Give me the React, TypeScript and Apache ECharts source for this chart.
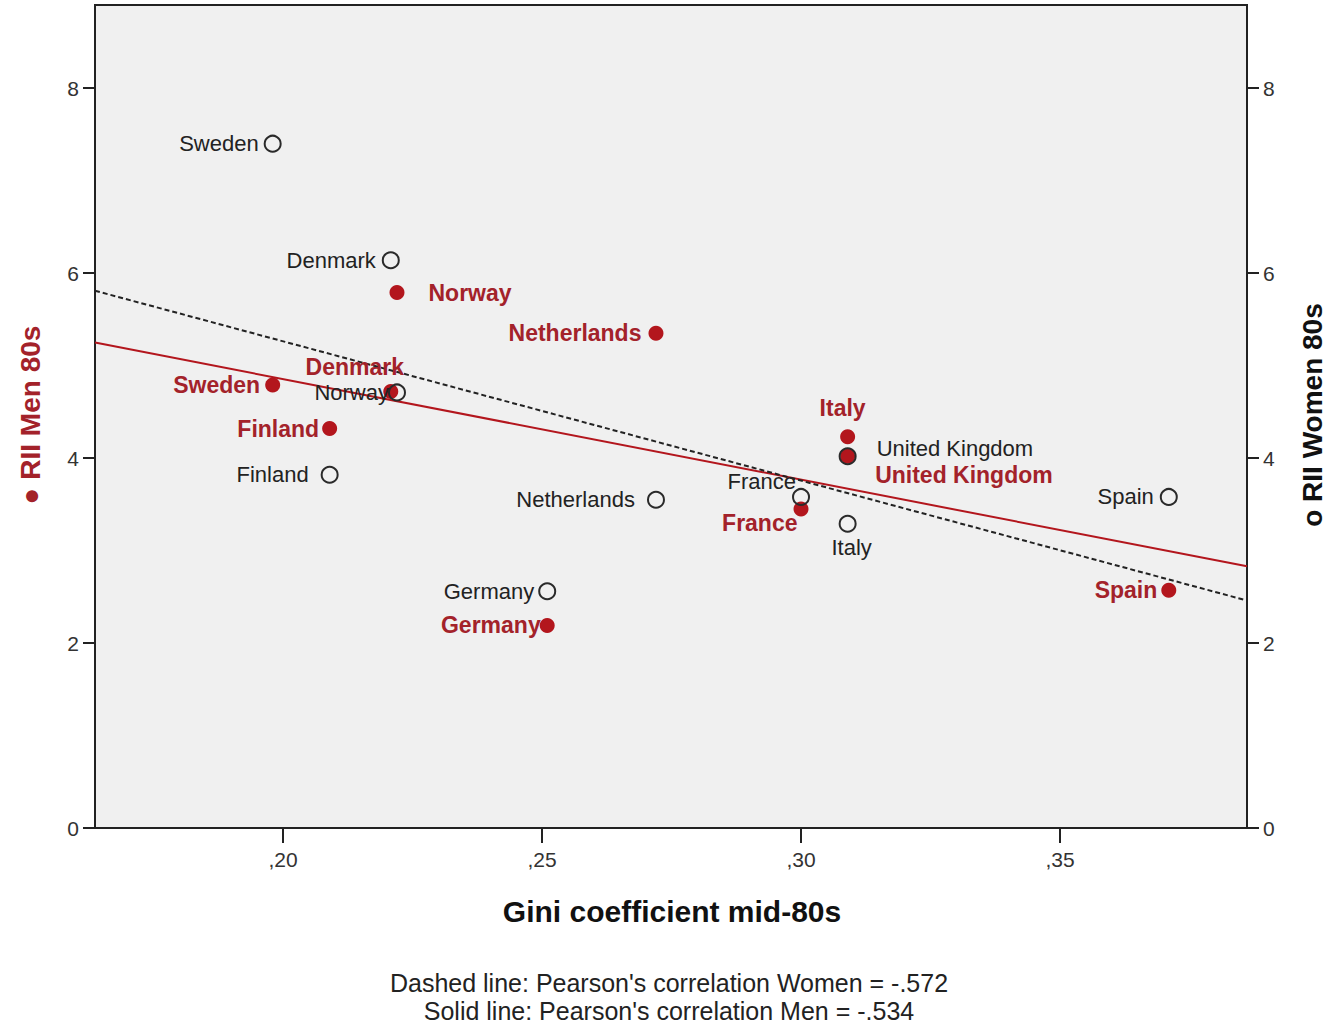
import React, { useEffect, useRef } from 'react';
import * as echarts from 'echarts';

// ---- data ----
const countries = ['Sweden', 'Denmark', 'Norway', 'Finland', 'Netherlands', 'Germany', 'France', 'Italy', 'United Kingdom', 'Spain'];
const gini = [0.198, 0.2208, 0.222, 0.209, 0.272, 0.251, 0.300, 0.309, 0.309, 0.371];
const riiMen = [4.79, 4.72, 5.79, 4.32, 5.35, 2.19, 3.45, 4.23, 4.02, 2.57];
const riiWomen = [7.40, 6.14, 4.71, 3.82, 3.55, 2.56, 3.58, 3.29, 4.02, 3.58];

const xTicks = [0.20, 0.25, 0.30, 0.35];
const yTicks = [0, 2, 4, 6, 8];
const xRange = [0.1637, 0.3861];
const yRange = [0, 8.9];

// fit lines read at the plot edges
const fitMen = [[0.1637, 5.25], [0.3861, 2.83]];
const fitWomen = [[0.1637, 5.81], [0.3861, 2.46]];

const xName = 'Gini coefficient mid-80s';
const yNameLeft = '● RII Men 80s';
const yNameRight = 'o RII Women 80s';
const footer1 = "Dashed line: Pearson's correlation Women = -.572";
const footer2 = "Solid line: Pearson's correlation Men = -.534";

// ---- label placement (layout only) ----
type Place = { position: string; distance: number; offset?: number[] };
const womenPlace: Record<string, Place> = {
  Sweden: { position: 'left', distance: 5 },
  Denmark: { position: 'left', distance: 6 },
  Norway: { position: 'left', distance: -1 },
  Finland: { position: 'left', distance: 12 },
  Netherlands: { position: 'left', distance: 12 },
  Germany: { position: 'left', distance: 4 },
  France: { position: 'left', distance: -4, offset: [0, -15] },
  Italy: { position: 'bottom', distance: 4, offset: [4, 0] },
  'United Kingdom': { position: 'right', distance: 20, offset: [0, -8] },
  Spain: { position: 'left', distance: 6 },
};
const menPlace: Record<string, Place> = {
  Sweden: { position: 'left', distance: 5 },
  Denmark: { position: 'top', distance: 6, offset: [-36, 0] },
  Norway: { position: 'right', distance: 24 },
  Finland: { position: 'left', distance: 3 },
  Netherlands: { position: 'left', distance: 7 },
  Germany: { position: 'left', distance: -1 },
  France: { position: 'left', distance: -4, offset: [0, 14] },
  Italy: { position: 'top', distance: 10, offset: [-5, 0] },
  'United Kingdom': { position: 'right', distance: 20, offset: [0, 19] },
  Spain: { position: 'left', distance: 4 },
};

const RED = '#b3161d';
const RED_TEXT = '#a3222a';
const FONT = '"Liberation Sans", Arial, sans-serif';

export default function App() {
  const ref = useRef<HTMLDivElement>(null);

  useEffect(() => {
    if (!ref.current) return;
    const chart = echarts.init(ref.current, null, { renderer: 'svg' });

    const menData = countries.map((c, i) => {
      const p = menPlace[c];
      return {
        name: c,
        value: [gini[i], riiMen[i]],
        label: { show: true, position: p.position, distance: p.distance, offset: p.offset || [0, 0] },
      };
    });
    const womenData = countries.map((c, i) => {
      const p = womenPlace[c];
      return {
        name: c,
        value: [gini[i], riiWomen[i]],
        label: { show: true, position: p.position, distance: p.distance, offset: p.offset || [0, 0] },
      };
    });

    const yAxisBase = {
      type: 'value',
      min: yRange[0],
      max: yRange[1],
      splitLine: { show: false },
      axisLine: { show: true, lineStyle: { color: '#222', width: 2 } },
      axisTick: { show: true, length: 12, customValues: yTicks, lineStyle: { color: '#222', width: 2 } },
      axisLabel: { customValues: yTicks, fontSize: 21, color: '#333', fontFamily: FONT, margin: 16 },
    };

    chart.setOption({
      animation: false,
      backgroundColor: '#ffffff',
      grid: {
        left: 95,
        right: 85,
        top: 5,
        bottom: 200,
        show: true,
        backgroundColor: '#f0f0f0',
        borderColor: '#222',
        borderWidth: 2,
      },
      xAxis: {
        type: 'value',
        min: xRange[0],
        max: xRange[1],
        splitLine: { show: false },
        axisLine: { show: true, lineStyle: { color: '#222', width: 2 } },
        axisTick: { show: true, length: 15, customValues: xTicks, lineStyle: { color: '#222', width: 2 } },
        axisLabel: {
          customValues: xTicks,
          fontSize: 21,
          color: '#333',
          fontFamily: FONT,
          margin: 21,
          formatter: (v: number) => ',' + Math.round(v * 100).toString(),
        },
      },
      yAxis: [
        { ...yAxisBase, position: 'left' },
        { ...yAxisBase, position: 'right' },
      ],
      series: [
        {
          type: 'line',
          data: fitMen,
          symbol: 'none',
          lineStyle: { color: RED, width: 2 },
          silent: true,
          z: 1,
        },
        {
          type: 'line',
          data: fitWomen,
          symbol: 'none',
          lineStyle: { color: '#222', width: 2, type: [5, 3] },
          silent: true,
          z: 1,
        },
        {
          type: 'scatter',
          data: menData,
          symbol: 'circle',
          symbolSize: 15,
          itemStyle: { color: RED, opacity: 1 },
          label: {
            formatter: '{b}',
            fontSize: 23,
            fontWeight: 'bold',
            fontFamily: FONT,
            color: RED_TEXT,
          },
          z: 3,
        },
        {
          type: 'scatter',
          data: womenData,
          symbol: 'circle',
          symbolSize: 16,
          itemStyle: { color: 'rgba(0,0,0,0)', borderColor: '#2a2a2a', borderWidth: 2, opacity: 1 },
          label: {
            formatter: '{b}',
            fontSize: 22,
            fontFamily: FONT,
            color: '#222',
          },
          z: 4,
        },
      ],
      graphic: [
        {
          type: 'text',
          x: 30,
          y: 415,
          rotation: Math.PI / 2,
          style: {
            text: yNameLeft,
            fontSize: 28,
            fontWeight: 'bold',
            fontFamily: FONT,
            fill: RED_TEXT,
            textAlign: 'center',
            textVerticalAlign: 'middle',
          },
        },
        {
          type: 'text',
          x: 1312,
          y: 415,
          rotation: Math.PI / 2,
          style: {
            text: yNameRight,
            fontSize: 28,
            fontWeight: 'bold',
            fontFamily: FONT,
            fill: '#111',
            textAlign: 'center',
            textVerticalAlign: 'middle',
          },
        },
        {
          type: 'text',
          x: 672,
          y: 911,
          style: {
            text: xName,
            fontSize: 30,
            fontWeight: 'bold',
            fontFamily: FONT,
            fill: '#111',
            textAlign: 'center',
            textVerticalAlign: 'middle',
          },
        },
        {
          type: 'text',
          x: 669,
          y: 983,
          style: {
            text: footer1,
            fontSize: 25,
            fontFamily: FONT,
            fill: '#222',
            textAlign: 'center',
            textVerticalAlign: 'middle',
          },
        },
        {
          type: 'text',
          x: 669,
          y: 1011,
          style: {
            text: footer2,
            fontSize: 25,
            fontFamily: FONT,
            fill: '#222',
            textAlign: 'center',
            textVerticalAlign: 'middle',
          },
        },
      ],
    });

    return () => chart.dispose();
  }, []);

  return (
    <div
      ref={ref}
      style={{ position: 'fixed', left: 0, top: 0, width: 1332, height: 1028 }}
    />
  );
}
